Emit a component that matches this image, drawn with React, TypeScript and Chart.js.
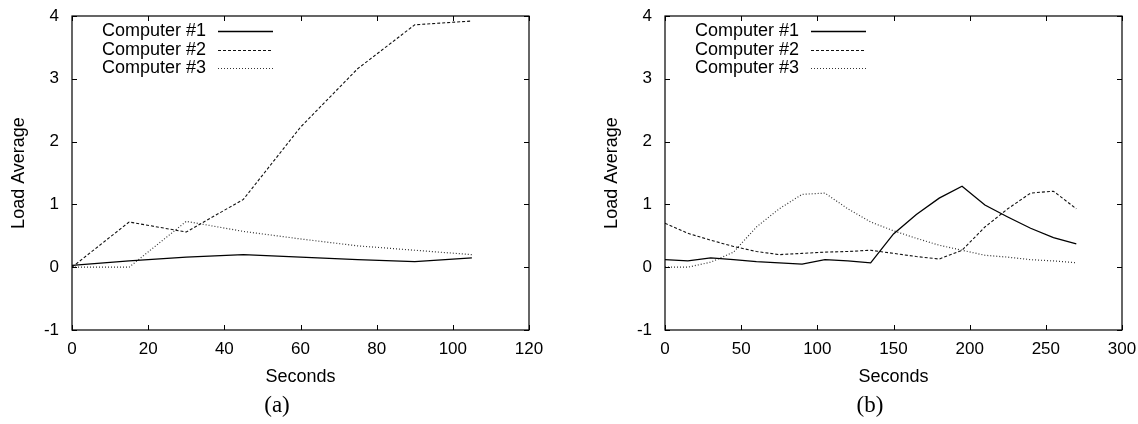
import React, { useEffect, useRef } from "react";
import { Chart, registerables } from "chart.js";

Chart.register(...registerables);

// ---- data ----
const seriesNames = ["Computer #1", "Computer #2", "Computer #3"];

const secondsA = [0, 15, 30, 45, 60, 75, 90, 105];
const loadA1 = [0.03, 0.1, 0.16, 0.2, 0.16, 0.12, 0.09, 0.15];
const loadA2 = [0.0, 0.72, 0.56, 1.08, 2.23, 3.16, 3.86, 3.92];
const loadA3 = [0.0, 0.0, 0.73, 0.57, 0.45, 0.34, 0.27, 0.2];

const secondsB = [0, 15, 30, 45, 60, 75, 90, 105, 120, 135, 150, 165, 180, 195, 210, 225, 240, 255, 270];
const loadB1 = [0.12, 0.1, 0.15, 0.12, 0.09, 0.07, 0.05, 0.12, 0.1, 0.07, 0.53, 0.84, 1.1, 1.29, 0.99, 0.8, 0.62, 0.47, 0.37];
const loadB2 = [0.7, 0.54, 0.43, 0.33, 0.25, 0.2, 0.22, 0.24, 0.25, 0.27, 0.22, 0.17, 0.13, 0.27, 0.64, 0.93, 1.18, 1.21, 0.93];
const loadB3 = [0.0, 0.0, 0.08, 0.24, 0.64, 0.93, 1.16, 1.18, 0.93, 0.72, 0.58, 0.46, 0.35, 0.27, 0.19, 0.16, 0.12, 0.1, 0.07];

const xMaxA = 120;
const xStepA = 20;
const xMaxB = 300;
const xStepB = 50;
const yMin = -1;
const yMax = 4;
const captions = ["(a)", "(b)"];
const xTitle = "Seconds";
const yTitle = "Load Average";

const FONT = "'Liberation Sans', Arial, sans-serif";
const dashes: number[][] = [[], [3, 2], [1, 2]];
const widths = [1.3, 1.1, 1.2];
const colors = ["#000", "#111", "#333"];

const gnuPlugin = {
  id: "gnuFrame",
  afterDraw(chart: any) {
    const { ctx, chartArea } = chart;
    const { left, top, right, bottom } = chartArea;
    ctx.save();
    ctx.strokeStyle = "#000";
    ctx.lineWidth = 1.2;
    ctx.setLineDash([]);
    ctx.strokeRect(left, top, right - left, bottom - top);
    const tl = 5;
    const xs = chart.scales.x;
    const ys = chart.scales.y;
    ctx.lineWidth = 1;
    ctx.beginPath();
    xs.ticks.forEach((t: any) => {
      const px = Math.round(xs.getPixelForValue(t.value)) + 0.5;
      ctx.moveTo(px, bottom);
      ctx.lineTo(px, bottom - tl);
      ctx.moveTo(px, top);
      ctx.lineTo(px, top + tl);
    });
    ys.ticks.forEach((t: any) => {
      const py = Math.round(ys.getPixelForValue(t.value)) + 0.5;
      ctx.moveTo(left, py);
      ctx.lineTo(left + tl, py);
      ctx.moveTo(right, py);
      ctx.lineTo(right - tl, py);
    });
    ctx.stroke();

    // gnuplot-style key
    ctx.font = `18px ${FONT}`;
    ctx.fillStyle = "#000";
    ctx.textAlign = "right";
    ctx.textBaseline = "middle";
    chart.data.datasets.forEach((ds: any, i: number) => {
      const y = top + 15 + i * 18.7;
      ctx.fillText(ds.label, left + 134, y);
      ctx.beginPath();
      ctx.setLineDash(ds.borderDash || []);
      ctx.strokeStyle = ds.borderColor;
      ctx.lineWidth = ds.borderWidth;
      ctx.moveTo(left + 146, Math.round(y) + 0.5);
      ctx.lineTo(left + 201, Math.round(y) + 0.5);
      ctx.stroke();
    });
    ctx.restore();
  },
};

function makeConfig(xs: number[], ys: number[][], xMax: number, xStep: number): any {
  return {
    type: "line",
    data: {
      datasets: ys.map((vals, i) => ({
        label: seriesNames[i],
        data: xs.map((x, j) => ({ x, y: vals[j] })),
        borderColor: colors[i],
        borderWidth: widths[i],
        borderDash: dashes[i],
        pointRadius: 0,
        tension: 0,
        fill: false,
      })),
    },
    options: {
      responsive: false,
      animation: false,
      devicePixelRatio: 1,
      layout: { padding: { left: 0, right: 16, top: 16, bottom: 0 } },
      plugins: { legend: { display: false }, tooltip: { enabled: false } },
      scales: {
        x: {
          type: "linear",
          min: 0,
          max: xMax,
          grid: { display: false, drawTicks: false, tickLength: 0 },
          border: { display: false },
          ticks: {
            stepSize: xStep,
            autoSkip: false,
            maxRotation: 0,
            padding: 9,
            color: "#000",
            font: { family: FONT, size: 17 },
          },
          title: {
            display: true,
            text: xTitle,
            color: "#000",
            font: { family: FONT, size: 18 },
            padding: { top: 0, bottom: 36 },
          },
          afterFit: (s: any) => {
            s.height = 94;
            s.paddingLeft = 0;
            s.paddingRight = 0;
            s.paddingTop = 0;
            s.paddingBottom = 0;
          },
        },
        y: {
          type: "linear",
          min: yMin,
          max: yMax,
          grid: { display: false, drawTicks: false, tickLength: 0 },
          border: { display: false },
          ticks: {
            stepSize: 1,
            padding: 13,
            color: "#000",
            font: { family: FONT, size: 17 },
          },
          title: {
            display: true,
            text: yTitle,
            color: "#000",
            font: { family: FONT, size: 18 },
            padding: { top: 8, bottom: 0 },
          },
          afterFit: (s: any) => {
            s.width = 72;
            s.paddingLeft = 0;
            s.paddingRight = 0;
            s.paddingTop = 0;
            s.paddingBottom = 0;
          },
        },
      },
    },
    plugins: [gnuPlugin],
  };
}

export default function App() {
  const refA = useRef<HTMLCanvasElement>(null);
  const refB = useRef<HTMLCanvasElement>(null);

  useEffect(() => {
    const a = new Chart(refA.current as HTMLCanvasElement, makeConfig(secondsA, [loadA1, loadA2, loadA3], xMaxA, xStepA));
    const b = new Chart(refB.current as HTMLCanvasElement, makeConfig(secondsB, [loadB1, loadB2, loadB3], xMaxB, xStepB));
    return () => {
      a.destroy();
      b.destroy();
    };
  }, []);

  const capStyle = (cx: number): React.CSSProperties => ({
    position: "absolute",
    left: cx - 50,
    width: 100,
    top: 392,
    textAlign: "center",
    fontFamily: "'Liberation Serif', 'DejaVu Serif', serif",
    fontSize: 23,
    lineHeight: "26px",
    color: "#000",
  });

  return (
    <div style={{ position: "absolute", left: 0, top: 0, width: 1138, height: 424, background: "#fff", overflow: "hidden" }}>
      <canvas ref={refA} width={545} height={424} style={{ position: "absolute", left: 0, top: 0, width: 545, height: 424 }} />
      <canvas ref={refB} width={545} height={424} style={{ position: "absolute", left: 593, top: 0, width: 545, height: 424 }} />
      <div style={capStyle(277)}>{captions[0]}</div>
      <div style={capStyle(870)}>{captions[1]}</div>
    </div>
  );
}
